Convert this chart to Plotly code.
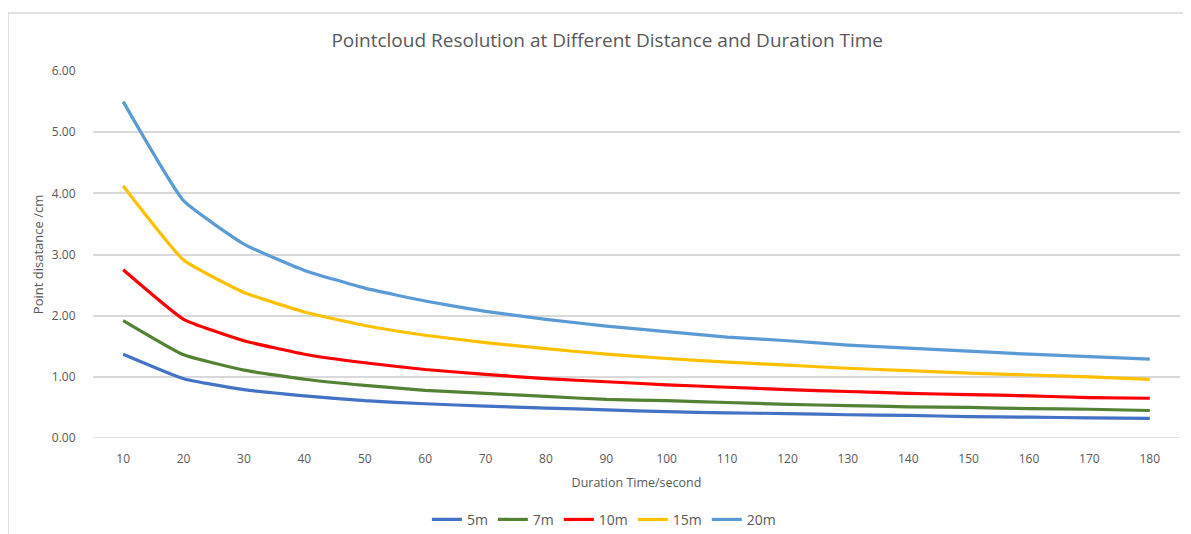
import plotly.graph_objects as go

durations = [10, 20, 30, 40, 50, 60, 70, 80, 90, 100, 110, 120, 130, 140, 150, 160, 170, 180]

dist_5m = [1.37, 0.97, 0.79, 0.69, 0.61, 0.56, 0.52, 0.49, 0.46, 0.43, 0.41, 0.40, 0.38, 0.37, 0.35, 0.34, 0.33, 0.32]
dist_7m = [1.92, 1.36, 1.11, 0.96, 0.86, 0.78, 0.73, 0.68, 0.63, 0.61, 0.58, 0.55, 0.53, 0.51, 0.50, 0.48, 0.47, 0.45]
dist_10m = [2.75, 1.94, 1.59, 1.37, 1.23, 1.12, 1.04, 0.97, 0.92, 0.87, 0.83, 0.79, 0.76, 0.73, 0.71, 0.69, 0.66, 0.65]
dist_15m = [4.12, 2.91, 2.38, 2.06, 1.84, 1.68, 1.56, 1.46, 1.37, 1.30, 1.24, 1.19, 1.14, 1.10, 1.06, 1.03, 1.00, 0.96]
dist_20m = [5.50, 3.88, 3.17, 2.74, 2.45, 2.24, 2.07, 1.94, 1.83, 1.74, 1.65, 1.59, 1.52, 1.47, 1.42, 1.37, 1.33, 1.29]

series = [
    ("5m", dist_5m, "#4472C4"),
    ("7m", dist_7m, "#548235"),
    ("10m", dist_10m, "#FF0000"),
    ("15m", dist_15m, "#FFC000"),
    ("20m", dist_20m, "#5B9BD5"),
]

FONT = "'Open Sans', Lato, sans-serif"
GREY_TEXT = "#595959"
GRID = "#D9D9D9"
CLEAR = "rgba(0,0,0,0)"

fig = go.Figure()
for name, values, color in series:
    fig.add_trace(
        go.Scatter(
            x=durations,
            y=values,
            name=name,
            mode="lines",
            line=dict(color=color, width=3.2, shape="spline", smoothing=0.4),
        )
    )

# outer chart border (Excel chart frame)
fig.add_shape(
    type="rect",
    xref="paper",
    yref="paper",
    x0=-0.0782,
    x1=1.2,
    y0=-0.5,
    y1=1.158,
    line=dict(color=GRID, width=1.5),
    layer="below",
)

# the page body adds an 8px offset, so the figure is sized to fit the window
fig.update_layout(
    width=1183,
    height=526,
    paper_bgcolor="white",
    plot_bgcolor="white",
    margin=dict(l=85, r=11, t=63, b=96, autoexpand=False),
    font=dict(family=FONT, color=GREY_TEXT, size=12),
    title=dict(
        text="Pointcloud Resolution at Different Distance and Duration Time",
        x=0.5065,
        xanchor="center",
        y=0.939,
        yanchor="middle",
        font=dict(size=19, color=GREY_TEXT, family=FONT),
    ),
    xaxis=dict(
        range=[5, 185],
        tickvals=durations,
        showgrid=False,
        zeroline=False,
        showline=False,
        ticks="outside",
        ticklen=10,
        tickcolor=CLEAR,
        automargin=False,
        title=dict(text="Duration Time/second", font=dict(size=12.5), standoff=11),
        tickfont=dict(size=12),
    ),
    yaxis=dict(
        range=[0, 6],
        tickvals=[0, 1, 2, 3, 4, 5, 6],
        tickformat=".2f",
        showgrid=True,
        gridcolor=GRID,
        gridwidth=1.5,
        zeroline=False,
        showline=False,
        ticks="outside",
        ticklen=14,
        tickcolor=CLEAR,
        automargin=False,
        title=dict(text="Point disatance /cm", font=dict(size=13), standoff=5),
        tickfont=dict(size=12),
    ),
    legend=dict(
        orientation="h",
        x=0.47,
        xanchor="center",
        y=-0.223,
        yanchor="middle",
        font=dict(size=14),
    ),
)
# baseline at 0 drawn as a gridline-coloured line
fig.add_hline(y=0, line=dict(color=GRID, width=1.5), layer="below")

fig.write_html("out.html")
